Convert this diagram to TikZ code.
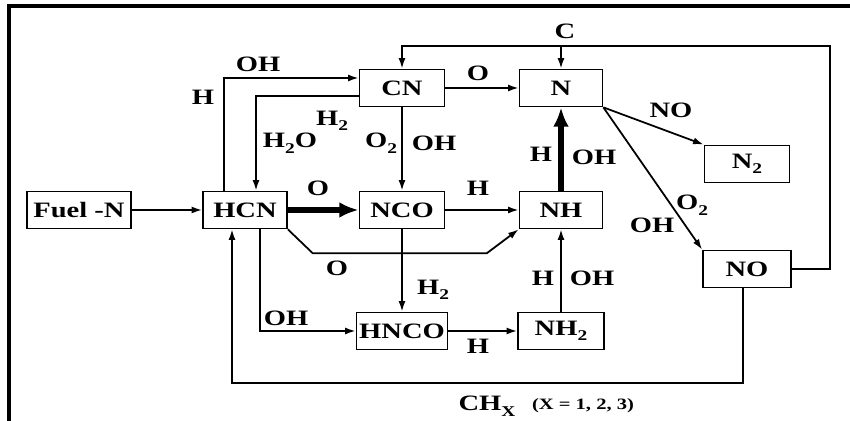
\documentclass[tikz,border=0pt]{standalone}
\usepackage{fontspec}
\setmainfont[FakeStretch=1.3]{Liberation Serif}
\usetikzlibrary{calc,arrows.meta}
\newcommand{\low}[1]{\raisebox{-0.55ex}{\fontsize{8.5}{9}\selectfont #1}}
\tikzset{
box/.style = {draw, line width=1pt, minimum width=#1, minimum height=0.74cm,
              inner sep=0pt, font=\fontsize{12.5}{14}\selectfont\bfseries},
box/.default = 1.7cm, % box width
lbl/.style = {inner sep=0pt, font=\fontsize{12.5}{14}\selectfont\bfseries},
arr/.style = {-{Latex[length=6pt,width=4pt]}, line width=1pt},
thk/.style = {-{Latex[length=11pt,width=9pt]}, line width=3pt}
}

\begin{document}
\begin{tikzpicture}[x=0.02cm, y=-0.02cm]
	\useasboundingbox (0,0) rectangle (850,421);
	\draw[line width=1.8pt] (850,6) -- (9,6) -- (9,421);

	% Species
	\node[box=2.08cm] (fuel) at (79,210)  {Fuel -N};
	\node[box=1.68cm] (hcn)  at (245,210) {HCN};
	\node[box=1.70cm] (cn)   at (402,88)  {CN};
	\node[box=1.70cm] (nco)  at (402,210) {NCO};
	\node[box=1.82cm] (hnco) at (402,331) {HNCO};
	\node[box=1.66cm] (n)    at (561,88)  {N};
	\node[box=1.66cm] (nh)   at (561,210) {NH};
	\node[box=1.72cm] (nh2)  at (561,331) {NH\low{2}};
	\node[box=1.70cm] (n2)   at (747,164) {N\low{2}};
	\node[box=1.76cm] (no)   at (747,269) {NO};
	\coordinate (ctop) at (830,46);

	% Straight paths
	\draw[arr] (fuel) -- (hcn);
	\draw[thk] (hcn) -- (nco);
	\draw[arr] (nco) -- (nh);
	\draw[arr] (cn) -- (n);
	\draw[arr] (cn) -- (nco);
	\draw[arr] (nco) -- (hnco);
	\draw[arr] (hnco) -- (nh2);
	\draw[arr] (nh2) -- (nh);
	\draw[thk] (nh) -- (n);
	\draw[arr] (n.south east) -- (n2.north west);
	\draw[arr] (n.south east) -- (no.north west);

	% Bent paths
	\draw[arr] ($(hcn.north)+(-21,0)$) |- ($(cn.west)+(0,-10)$);
	\draw[arr] ($(cn.west)+(0,8)$) -| ($(hcn.north)+(11,0)$);
	\draw[arr] (hcn.south east) -- ++(25,24) -- ($(nh.south west)+(-32,24)$) -- (nh.south west);
	\draw[arr] ($(hcn.south)+(15,0)$) |- (hnco.west);
	\draw[arr] ($(no.south)+(-4,0)$) -- ++(0,95) -| ($(hcn.south)+(-13,0)$);
	\draw[arr] (no.east) -| (ctop) -| (cn.north);
	\draw[arr] (n.north |- ctop) -- (n.north);

	% Reactants
	\node[lbl] (l1)  at (258,64)  {OH};
	\node[lbl] (l2)  at (203,97)  {H};
	\node[lbl] (l3)  at (332,121) {H\low{2}};
	\node[lbl] (l4)  at (290,143) {H\low{2}O};
	\node[lbl] (l5)  at (381,143) {O\low{2}};
	\node[lbl] (l6)  at (434,143) {OH};
	\node[lbl] (l7)  at (478,73)  {O};
	\node[lbl] (l8)  at (318,188) {O};
	\node[lbl] (l9)  at (478,188) {H};
	\node[lbl] (l10) at (337,268) {O};
	\node[lbl] (l11) at (433,290) {H\low{2}};
	\node[lbl] (l12) at (286,318) {OH};
	\node[lbl] (l13) at (478,346) {H};
	\node[lbl] (l14) at (543,278) {H};
	\node[lbl] (l15) at (592,278) {OH};
	\node[lbl] (l16) at (541,154) {H};
	\node[lbl] (l17) at (594,157) {OH};
	\node[lbl] (l18) at (671,110) {NO};
	\node[lbl] (l19) at (692,205) {O\low{2}};
	\node[lbl] (l20) at (652,225) {OH};
	\node[lbl] (l21) at (565,31)  {C};
	\node[lbl] (chx) at (487,406) {CH\low{X}};
	\node[lbl, font=\fontsize{9}{10}\selectfont\bfseries] (xval) at (583,406) {(X = 1, 2, 3)};

\end{tikzpicture}
\end{document}
